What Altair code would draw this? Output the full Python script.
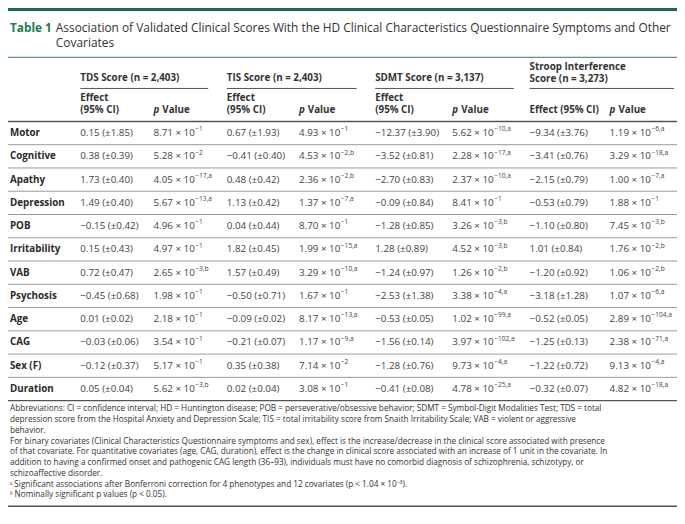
import altair as alt
import pandas as pd

# ---------------- data ----------------
rows = ["Motor", "Cognitive", "Apathy", "Depression", "POB", "Irritability",
        "VAB", "Psychosis", "Age", "CAG", "Sex (F)", "Duration"]

groups = ["TDS Score (n = 2,403)", "TIS Score (n = 2,403)",
          "SDMT Score (n = 3,137)", "Stroop Interference\nScore (n = 3,273)"]

tds_eff = [0.15, 0.38, 1.73, 1.49, -0.15, 0.15, 0.72, -0.45, 0.01, -0.03, -0.12, 0.05]
tds_ci = [1.85, 0.39, 0.40, 0.40, 0.42, 0.43, 0.47, 0.68, 0.02, 0.06, 0.37, 0.04]
tds_pm = [8.71, 5.28, 4.05, 5.67, 4.96, 4.97, 2.65, 1.98, 2.18, 3.54, 5.17, 5.62]
tds_pe = [-1, -2, -17, -13, -1, -1, -3, -1, -1, -1, -1, -3]
tds_fl = ["", "", "a", "a", "", "", "b", "", "", "", "", "b"]

tis_eff = [0.67, -0.41, 0.48, 1.13, 0.04, 1.82, 1.57, -0.50, -0.09, -0.21, 0.35, 0.02]
tis_ci = [1.93, 0.40, 0.42, 0.42, 0.44, 0.45, 0.49, 0.71, 0.02, 0.07, 0.38, 0.04]
tis_pm = [4.93, 4.53, 2.36, 1.37, 8.70, 1.99, 3.29, 1.67, 8.17, 1.17, 7.14, 3.08]
tis_pe = [-1, -2, -2, -7, -1, -15, -10, -1, -13, -9, -2, -1]
tis_fl = ["", "b", "b", "a", "", "a", "a", "", "a", "a", "", ""]

sdmt_eff = [-12.37, -3.52, -2.70, -0.09, -1.28, 1.28, -1.24, -2.53, -0.53, -1.56, -1.28, -0.41]
sdmt_ci = [3.90, 0.81, 0.83, 0.84, 0.85, 0.89, 0.97, 1.38, 0.05, 0.14, 0.76, 0.08]
sdmt_pm = [5.62, 2.28, 2.37, 8.41, 3.26, 4.52, 1.26, 3.38, 1.02, 3.97, 9.73, 4.78]
sdmt_pe = [-10, -17, -10, -1, -3, -3, -2, -4, -99, -102, -4, -25]
sdmt_fl = ["a", "a", "a", "", "b", "b", "b", "a", "a", "a", "a", "a"]

str_eff = [-9.34, -3.41, -2.15, -0.53, -1.10, 1.01, -1.20, -3.18, -0.52, -1.25, -1.22, -0.32]
str_ci = [3.76, 0.76, 0.79, 0.79, 0.80, 0.84, 0.92, 1.28, 0.05, 0.13, 0.72, 0.07]
str_pm = [1.19, 3.29, 1.00, 1.88, 7.45, 1.76, 1.06, 1.07, 2.89, 2.38, 9.13, 4.82]
str_pe = [-6, -18, -7, -1, -3, -2, -2, -6, -104, -71, -4, -18]
str_fl = ["a", "a", "a", "", "b", "b", "b", "a", "a", "a", "a", "a"]

title_label = "Table 1"
title_lines = ["Association of Validated Clinical Scores With the HD Clinical Characteristics Questionnaire Symptoms and Other",
               "Covariates"]

footnotes = [
    "Abbreviations: CI = confidence interval; HD = Huntington disease; POB = perseverative/obsessive behavior; SDMT = Symbol-Digit Modalities Test; TDS = total",
    "depression score from the Hospital Anxiety and Depression Scale; TIS = total irritability score from Snaith Irritability Scale; VAB = violent or aggressive",
    "behavior.",
    "For binary covariates (Clinical Characteristics Questionnaire symptoms and sex), effect is the increase/decrease in the clinical score associated with presence",
    "of that covariate. For quantitative covariates (age, CAG, duration), effect is the change in clinical score associated with an increase of 1 unit in the covariate. In",
    "addition to having a confirmed onset and pathogenic CAG length (36–93), individuals must have no comorbid diagnosis of schizophrenia, schizotypy, or",
    "schizoaffective disorder.",
    "ᵃ Significant associations after Bonferroni correction for 4 phenotypes and 12 covariates (p < 1.04 × 10⁻³).",
    "ᵇ Nominally significant p values (p < 0.05).",
]

# ---------------- layout (reference pixel space 685 x 524) ----------------
REF_W, REF_H = 685, 524
W, H = 669, 508
LABEL_X = 2
EFF_X = [74, 224, 376, 534]
P_X = [149, 298, 455, 616]
GROUP_END = [205, 357, 518, 682]
ROW0, ROW_H = 129, 24
HEAD_LINE = 117
FOOT0, FOOT_H = 414, 11.1

FONT = "Open Sans"
FS = 9.8


def num(v):
    return f"{v:.2f}".replace("-", "−")


effects = [(tds_eff, tds_ci), (tis_eff, tis_ci), (sdmt_eff, sdmt_ci), (str_eff, str_ci)]
pvals = [(tds_pm, tds_pe, tds_fl), (tis_pm, tis_pe, tis_fl),
         (sdmt_pm, sdmt_pe, sdmt_fl), (str_pm, str_pe, str_fl)]

cells, bases, exps, labels = [], [], [], []
for i, r in enumerate(rows):
    y = ROW0 + i * ROW_H
    labels.append({"x": LABEL_X, "y": y, "t": r})
    for g in range(4):
        ev, cv = effects[g]
        cells.append({"x": EFF_X[g], "y": y, "t": f"{num(ev[i])} (±{cv[i]:.2f})"})
        pm, pe, fl = pvals[g]
        bases.append({"x": P_X[g], "y": y, "t": f"{pm[i]:.2f} × 10"})
        e = "−" + str(abs(pe[i])) + ("," + fl[i] if fl[i] else "")
        exps.append({"x": P_X[g], "y": y, "t": e})

heads, values = [], []
for g, name in enumerate(groups):
    parts = name.split("\n")
    if len(parts) == 2:
        heads.append({"x": EFF_X[g], "y": 61, "t": parts[0]})
        heads.append({"x": EFF_X[g], "y": 73, "t": parts[1]})
    else:
        heads.append({"x": EFF_X[g], "y": 72, "t": parts[0]})
    if g < 3:
        heads.append({"x": EFF_X[g], "y": 93, "t": "Effect"})
        heads.append({"x": EFF_X[g], "y": 105, "t": "(95% CI)"})
    else:
        heads.append({"x": EFF_X[g], "y": 105, "t": "Effect (95% CI)"})
    values.append({"x": P_X[g], "y": 105, "t": "Value"})
pitalic = [{"x": P_X[g], "y": 105, "t": "p"} for g in range(4)]

foot = [{"x": 2, "y": FOOT0 + k * FOOT_H, "t": t} for k, t in enumerate(footnotes)]

rules_thin = [{"x": 0, "x2": REF_W, "y": ROW0 + ROW_H / 2 + i * ROW_H} for i in range(len(rows) - 1)]
rules_dark = [{"x": 0, "x2": REF_W, "y": HEAD_LINE},
              {"x": 0, "x2": REF_W, "y": ROW0 - ROW_H / 2 + len(rows) * ROW_H},
              {"x": 0, "x2": REF_W, "y": 514}]
rules_group = [{"x": EFF_X[g], "x2": GROUP_END[g], "y": 83} for g in range(4)]
rules_green = [{"x": 0, "x2": REF_W, "y": 51}]
bar = [{"x": 0, "x2": REF_W, "y": 0, "y2": 3}]

xs = alt.Scale(domain=[0, REF_W], range=[0, W], nice=False, zero=False)
ys = alt.Scale(domain=[0, REF_H], range=[0, H], nice=False, zero=False)


def X():
    return alt.X("x:Q", scale=xs, axis=None)


def Y():
    return alt.Y("y:Q", scale=ys, axis=None)


def text_layer(data, size, weight="normal", color="#444", style="normal", dx=0, dy=0, font=FONT):
    return alt.Chart(pd.DataFrame(data)).mark_text(
        align="left", baseline="middle", font=font, fontSize=size, fontWeight=weight,
        fontStyle=style, color=color, dx=dx, dy=dy
    ).encode(x=X(), y=Y(), text="t:N")


def rule_layer(data, color, width):
    return alt.Chart(pd.DataFrame(data)).mark_rule(color=color, strokeWidth=width).encode(
        x=X(), x2="x2:Q", y=Y())


layers = [
    alt.Chart(pd.DataFrame(bar)).mark_rect(color="#1d6b49").encode(x=X(), x2="x2:Q", y=Y(), y2="y2:Q"),
    rule_layer(rules_green, "#5a9a78", 1.2),
    rule_layer(rules_thin, "#9a9a9a", 1),
    rule_layer(rules_dark, "#555555", 1.4),
    rule_layer(rules_group, "#555555", 1),
    text_layer([{"x": 2, "y": 21, "t": title_label}], 11.8, "bold", "#1e7a4e"),
    text_layer([{"x": 49, "y": 21 + 15 * k, "t": t} for k, t in enumerate(title_lines)], 11.9, "normal", "#333"),
    text_layer(heads, FS, "bold", "#333"),
    text_layer(pitalic, FS, "bold", "#333", style="italic"),
    text_layer(values, FS, "bold", "#333", dx=8.8),
    text_layer(labels, FS, "bold", "#2a2a2a"),
    text_layer(cells, FS, "normal", "#444"),
    text_layer(bases, FS, "normal", "#444"),
    text_layer(exps, 6.6, "normal", "#444", dx=41.8, dy=-3.7),
    text_layer(foot, 8.2, "normal", "#333"),
]

chart = alt.layer(*layers).properties(
    width=W, height=H, padding=0, autosize=alt.AutoSizeParams(type="none"), background="white"
).configure_view(stroke=None)

chart.save("out.html", embed_options={"renderer": "svg", "actions": False})
